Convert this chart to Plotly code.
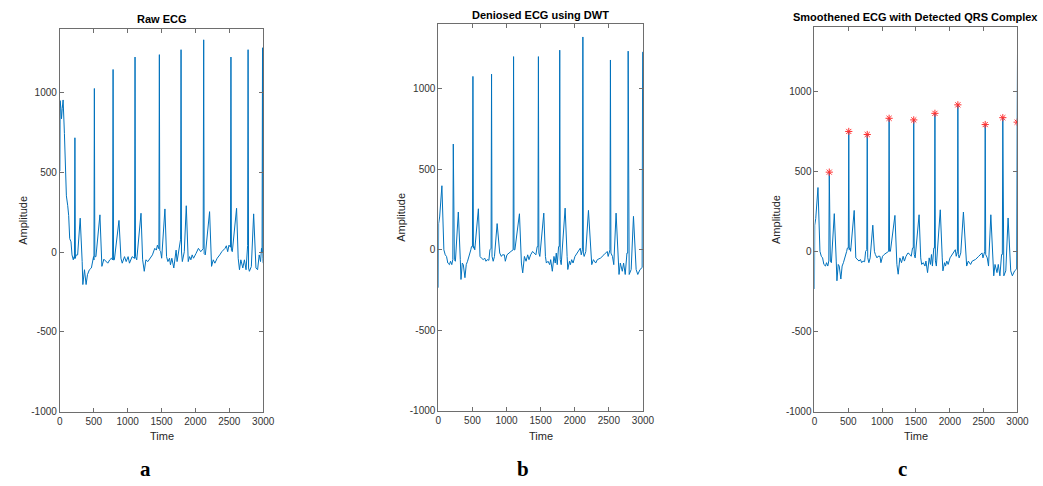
import plotly.graph_objects as go

# ---------------- data ----------------
# Panel a: raw ECG
raw_t = [0, 4, 15, 24, 35, 48, 67, 82, 96, 116, 130, 145, 164, 179, 198, 210, 215,
         222, 229, 237, 262, 300, 329, 339, 363, 387, 407, 436, 465, 484, 497, 503,
         509, 516, 532, 591, 620, 649, 678, 707, 736, 760, 778,
         785, 792, 804, 872, 901, 920, 954, 978, 1007, 1027, 1066, 1102,
         1109, 1116, 1134, 1197, 1221, 1245, 1269, 1298, 1327, 1366, 1400, 1424, 1439, 1461,
         1468, 1475, 1487, 1502, 1550, 1574, 1594, 1618, 1632, 1652, 1681, 1715, 1729, 1754, 1768, 1781,
         1788, 1795, 1807, 1836, 1865, 1894, 1914, 1933, 1952, 1972, 2010, 2044, 2078, 2114,
         2122, 2129, 2146, 2209, 2238, 2263, 2287, 2321, 2359, 2389, 2437, 2456, 2476, 2495, 2517,
         2524, 2531, 2544, 2607, 2631, 2650, 2670, 2699, 2723, 2747, 2762, 2770,
         2777, 2784, 2796, 2825, 2859, 2893, 2917, 2941, 2961, 2975, 2983,
         2990, 2996, 3000]
raw_v = [508, 949, 900, 835, 900, 953, 743, 517, 352, 290, 228, 84, 64, -18, -49, -30, -40,
         716, -40, -20, -18, 212, -60, -204, -111, -204, -142, -111, -100, -60, -29, -50,
         1025, -30, -29, 233, -90, -45, -60, -70, -49, -39, -50,
         1144, -50, -49, 198, -39, -70, -29, -60, -29, -70, -29, -40,
         1222, -30, -49, 243, -49, -121, -49, -60, -39, -18, 23, 12, 43, 20,
         1237, 10, 2, -39, 270, -29, -60, -39, -80, -39, -100, 12, -60, 12, 64, 80,
         1268, 0, -60, 2, 290, -60, -29, -49, -18, -39, -8, 23, 2, 20,
         1330, -10, -18, 253, -90, -49, -70, -39, -18, 2, 23, 39, 2, 43, 30,
         1222, 10, 2, 274, -39, -111, -49, -100, -49, -111, 23, 40,
         1268, -100, -121, -91, 239, -100, -111, -18, -60, 23, 0,
         1280, -40, -70]

# Panel b: denoised ECG using DWT
dwt_t = [0, 4, 19, 52, 81, 101, 120, 139, 163, 178, 197, 212,
         219, 226, 235, 250, 293, 322, 332, 351, 366, 390, 409, 428, 452, 476, 486, 500,
         507, 514, 525, 534, 587, 611, 630, 659, 679, 698, 717, 741, 756, 773,
         780, 787, 804, 823, 862, 886, 900, 924, 939, 968, 982, 1006, 1030, 1064, 1096,
         1103, 1110, 1122, 1189, 1218, 1237, 1262, 1286, 1310, 1329, 1353, 1382, 1411, 1430, 1449, 1460,
         1467, 1474, 1488, 1546, 1570, 1584, 1608, 1633, 1647, 1671, 1695, 1714, 1729, 1743, 1763, 1773,
         1780, 1787, 1801, 1859, 1888, 1898, 1922, 1936, 1955, 1975, 2003, 2061, 2081, 2095, 2112,
         2119, 2126, 2138, 2162, 2201, 2235, 2249, 2273, 2307, 2331, 2379, 2427, 2476, 2490, 2509, 2516,
         2523, 2530, 2553, 2572, 2606, 2635, 2649, 2668, 2697, 2716, 2740, 2765, 2776,
         2783, 2790, 2798, 2827, 2861, 2900, 2924, 2957, 2981, 2988,
         2995, 3000]
dwt_v = [-235, 163, 204, 398, 0, -31, -41, -82, -92, -71, -92, -60,
         657, -60, -61, -71, 235, -61, -184, -82, -92, -173, -92, -71, -41, 0, 20, 20,
         1077, 10, 20, 0, 255, -41, -51, -61, -51, -71, -61, -65, 0, 10,
         1091, -40, -71, -41, 163, 0, -20, -41, -31, -31, -71, -31, -20, -10, 0,
         1200, 0, 0, 224, -82, -143, -41, -71, -31, -61, -31, -10, -20, -31, 20, 20,
         1200, -20, -41, 228, -41, -82, -71, -92, -61, -133, -41, -82, -20, -92, 20, 20,
         1240, -60, -92, 259, -41, -122, -71, -92, -61, -82, -41, 0, 10, -31, 0,
         1322, -20, -41, -10, 245, -41, -92, -61, -82, -61, -51, -31, -10, -41, 0, 0,
         1179, -20, -41, -92, 228, -82, -153, -82, -133, -82, -153, -20, -20,
         1234, -100, -153, -122, 208, -122, -153, -122, -112, -110,
         1228, 1228]

# Panel c: detected QRS peaks (red asterisks)
qrs_t = [219, 507, 780, 1103, 1467, 1780, 2119, 2523, 2783, 2995]
qrs_v = [494, 748, 729, 830, 820, 861, 914, 791, 834, 806]

# smoothened signal: DWT baseline with the smoothed R amplitudes
smooth_t = list(dwt_t)
smooth_v = [qrs_v[qrs_t.index(t)] if t in qrs_t else v for t, v in zip(dwt_t, dwt_v)]

panel_titles = ["Raw ECG", "Deniosed ECG using DWT", "Smoothened ECG with Detected QRS Complex"]
panel_letters = ["a", "b", "c"]
x_ticks = [0, 500, 1000, 1500, 2000, 2500, 3000]
y_ticks = [-1000, -500, 0, 500, 1000]

# ---------------- figure ----------------
W, H = 1043, 486   # reference frame used for the fractional layout
LINE = "#0072BD"

# plot-area boxes in reference pixels (left, right, top, bottom)
boxes = [(57.7, 264.0, 29.0, 416.7),
         (441.7, 649.3, 24.7, 416.0),
         (823.3, 1029.3, 27.3, 416.7)]
amp_x = [20, 403, 785]
letter_x = [145, 528, 913]

fig = go.Figure()
series = [(raw_t, raw_v), (dwt_t, dwt_v), (smooth_t, smooth_v)]
for i, (t, v) in enumerate(series):
    sfx = "" if i == 0 else str(i + 1)
    fig.add_trace(go.Scatter(x=t, y=v, mode="lines",
                             line=dict(color=LINE, width=1),
                             xaxis="x" + sfx, yaxis="y" + sfx, showlegend=False,
                             hoverinfo="skip"))
fig.add_trace(go.Scatter(x=qrs_t, y=qrs_v, mode="markers",
                         marker=dict(symbol="asterisk-open", size=6, color="#FF3030",
                                     line=dict(color="#FF3030", width=1)),
                         xaxis="x3", yaxis="y3", showlegend=False, hoverinfo="skip"))

axis_common = dict(showline=True, linecolor="#6e6e6e", linewidth=1, mirror="ticks",
                   ticks="inside", ticklen=4, tickwidth=1, tickcolor="#6e6e6e",
                   showgrid=False, zeroline=False,
                   tickfont=dict(family="Arial, Liberation Sans, sans-serif", size=10, color="#333333"))

layout = dict(autosize=True, margin=dict(l=0, r=0, t=0, b=0, pad=0),
              paper_bgcolor="white", plot_bgcolor="white", showlegend=False)
annotations = []
for i, (l, r, tp, bt) in enumerate(boxes):
    sfx = "" if i == 0 else str(i + 1)
    xd = [l / W, r / W]
    yd = [(H - bt) / H, (H - tp) / H]
    layout["xaxis" + sfx] = dict(axis_common, domain=xd, range=[0, 3000],
                                 tickvals=x_ticks, ticktext=[str(v) for v in x_ticks],
                                 anchor="y" + sfx)
    layout["yaxis" + sfx] = dict(axis_common, domain=yd, range=[-1000, 1400],
                                 tickvals=y_ticks, ticktext=[str(v) for v in y_ticks],
                                 anchor="x" + sfx)
    cx = (l + r) / 2 / W
    annotations.append(dict(text="<b>" + panel_titles[i] + "</b>", x=cx, y=(H - (tp - 10)) / H,
                            xref="paper", yref="paper", showarrow=False,
                            xanchor="center", yanchor="middle",
                            font=dict(family="Arial, Liberation Sans, sans-serif", size=11, color="#000000")))
    annotations.append(dict(text="Time", x=cx, y=(H - 441.5) / H, xref="paper", yref="paper",
                            showarrow=False, xanchor="center", yanchor="middle",
                            font=dict(family="Arial, Liberation Sans, sans-serif", size=11, color="#262626")))
    annotations.append(dict(text="Amplitude", x=amp_x[i] / W, y=(H - (tp + bt) / 2) / H,
                            xref="paper", yref="paper", showarrow=False, textangle=-90,
                            xanchor="center", yanchor="middle",
                            font=dict(family="Arial, Liberation Sans, sans-serif", size=11, color="#262626")))
    annotations.append(dict(text="<b>" + panel_letters[i] + "</b>", x=letter_x[i] / W, y=(H - 475) / H,
                            xref="paper", yref="paper", showarrow=False,
                            xanchor="center", yanchor="middle",
                            font=dict(family="Liberation Serif, Times New Roman, serif", size=21, color="#000000")))
layout["annotations"] = annotations
fig.update_layout(**layout)

fig.write_html("out.html", config={"displayModeBar": False, "responsive": True},
               default_width="100vw", default_height="100vh",
               post_script="document.body.style.margin='0';document.body.style.overflow='hidden';"
                           "document.documentElement.style.overflow='hidden';"
                           "Plotly.Plots.resize(document.getElementById('{plot_id}'));")
